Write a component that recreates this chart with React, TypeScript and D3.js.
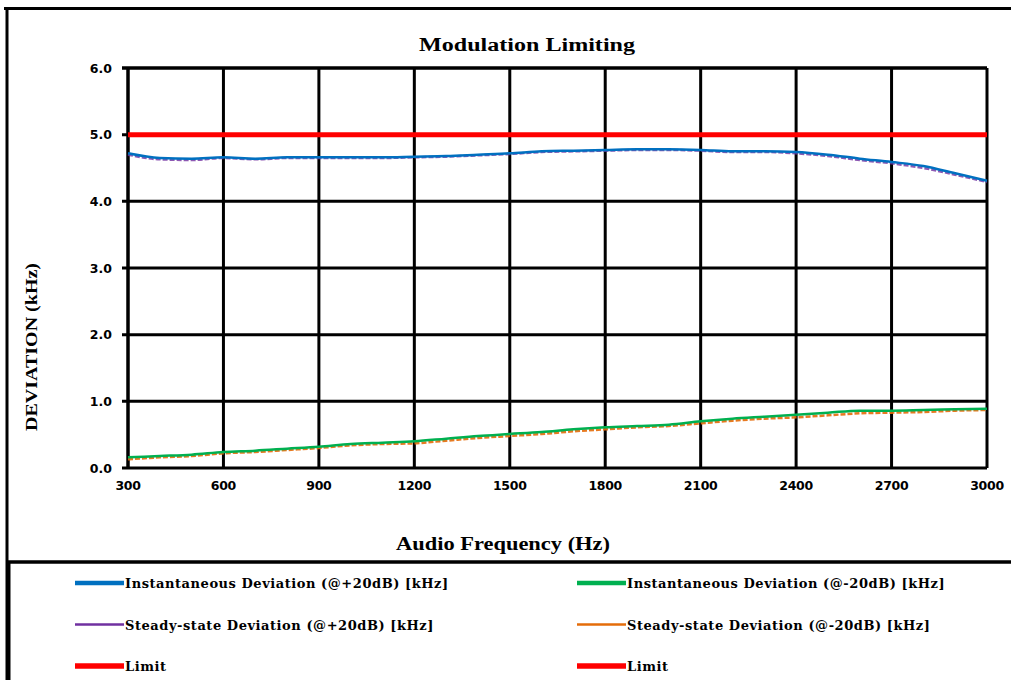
import React from "react";
import * as d3 from "d3";

const freqs = [300, 400, 500, 600, 700, 800, 900, 1000, 1100, 1200, 1300, 1400, 1500, 1600, 1700, 1800, 1900, 2000, 2100, 2200, 2300, 2400, 2500, 2600, 2700, 2800, 2900, 3000];
const instPlus = [4.72, 4.65, 4.64, 4.66, 4.64, 4.66, 4.66, 4.66, 4.66, 4.67, 4.68, 4.70, 4.72, 4.75, 4.76, 4.77, 4.78, 4.78, 4.77, 4.75, 4.75, 4.74, 4.70, 4.64, 4.59, 4.53, 4.42, 4.31];
const steadyPlus = [4.70, 4.63, 4.62, 4.65, 4.63, 4.65, 4.65, 4.65, 4.65, 4.66, 4.67, 4.69, 4.71, 4.74, 4.75, 4.76, 4.77, 4.77, 4.76, 4.74, 4.74, 4.72, 4.68, 4.62, 4.57, 4.50, 4.40, 4.29];
const instMinus = [0.16, 0.18, 0.20, 0.24, 0.26, 0.29, 0.32, 0.36, 0.38, 0.40, 0.44, 0.48, 0.51, 0.54, 0.58, 0.61, 0.63, 0.65, 0.70, 0.74, 0.77, 0.80, 0.83, 0.86, 0.86, 0.87, 0.88, 0.89];
const steadyMinus = [0.13, 0.16, 0.18, 0.22, 0.24, 0.27, 0.30, 0.34, 0.36, 0.37, 0.41, 0.45, 0.48, 0.51, 0.55, 0.58, 0.61, 0.63, 0.67, 0.71, 0.74, 0.76, 0.79, 0.82, 0.83, 0.84, 0.86, 0.87];
const limitValue = [5.0, 5.0];
const limitFreqs = [300, 3000];
const xTicks = [300, 600, 900, 1200, 1500, 1800, 2100, 2400, 2700, 3000];
const yTicks = [0, 1, 2, 3, 4, 5, 6];

const legendItems = [
  { label: "Instantaneous Deviation (@+20dB) [kHz]", color: "#0070C0", w: 4.5 },
  { label: "Instantaneous Deviation (@-20dB) [kHz]", color: "#00B050", w: 4.5 },
  { label: "Steady-state Deviation (@+20dB) [kHz]", color: "#7030A0", w: 2.5 },
  { label: "Steady-state Deviation (@-20dB) [kHz]", color: "#E46C0A", w: 2.5 },
  { label: "Limit", color: "#FF0000", w: 5.5 },
  { label: "Limit", color: "#FF0000", w: 5.5 },
];

export default function App() {
  const W = 1011, H = 680;
  const x = d3.scaleLinear().domain([300, 3000]).range([128, 987]);
  const y = d3.scaleLinear().domain([0, 6]).range([468, 68]);
  const line = d3.line<number>().x((_, i) => x(freqs[i])).y((d) => y(d)).curve(d3.curveMonotoneX);
  const limitLine = d3.line<number>().x((_, i) => x(limitFreqs[i])).y((d) => y(d));
  const serif = "'Liberation Serif', 'Times New Roman', serif";
  const slab = "'DejaVu Serif', serif";
  const sans = "'DejaVu Sans', Verdana, sans-serif";

  return (
    <svg width={W} height={H} style={{ position: "absolute", left: 0, top: 0, background: "#fff" }}>
      <rect x={0} y={0} width={W} height={H} fill="#fff" />
      {/* outer frame */}
      <line x1={4} x2={W} y1={8.5} y2={8.5} stroke="#000" strokeWidth={3} />
      <line x1={7} x2={7} y1={7} y2={H} stroke="#000" strokeWidth={3} />
      <line x1={6} x2={W} y1={562} y2={562} stroke="#000" strokeWidth={3.5} />
      <line x1={9} x2={9} y1={562} y2={H} stroke="#000" strokeWidth={3} />

      <text x={527} y={51} textAnchor="middle" fontFamily={serif} fontWeight="bold" fontSize={18} textLength={216} lengthAdjust="spacingAndGlyphs">Modulation Limiting</text>

      {/* grid */}
      {yTicks.map((t) => (
        <line key={"gy" + t} x1={122} x2={x(3000)} y1={y(t)} y2={y(t)} stroke="#000" strokeWidth={t === 6 ? 3.5 : 3} />
      ))}
      {xTicks.map((t) => (
        <line key={"gx" + t} x1={x(t)} x2={x(t)} y1={y(6)} y2={y(0)} stroke="#000" strokeWidth={t === 300 ? 3.5 : 3} />
      ))}

      {/* tick labels */}
      {yTicks.map((t) => (
        <text key={"ty" + t} x={112} y={y(t) + 4.5} textAnchor="end" fontFamily={sans} fontWeight="bold" fontSize={12.5}>{t.toFixed(1)}</text>
      ))}
      {xTicks.map((t) => (
        <text key={"tx" + t} x={x(t)} y={490} textAnchor="middle" fontFamily={sans} fontWeight="bold" fontSize={12.5} letterSpacing={-0.3}>{t}</text>
      ))}

      {/* series */}
      <path d={limitLine(limitValue) || ""} fill="none" stroke="#FF0000" strokeWidth={5} />
      <path d={line(steadyPlus) || ""} fill="none" stroke="#7030A0" strokeWidth={2.5} strokeDasharray="5,2" opacity={0.8} />
      <path d={line(instPlus) || ""} fill="none" stroke="#0070C0" strokeWidth={2.5} />
      <path d={line(steadyMinus) || ""} fill="none" stroke="#E46C0A" strokeWidth={2.5} strokeDasharray="5,2" opacity={0.9} />
      <path d={line(instMinus) || ""} fill="none" stroke="#00B050" strokeWidth={2.5} />

      {/* axis titles */}
      <text x={503} y={550} textAnchor="middle" fontFamily={serif} fontWeight="bold" fontSize={18} textLength={214} lengthAdjust="spacingAndGlyphs">Audio Frequency (Hz)</text>
      <text transform={`translate(37,347) rotate(-90)`} textAnchor="middle" fontFamily={serif} fontWeight="bold" fontSize={17} textLength={168} lengthAdjust="spacingAndGlyphs">DEVIATION (kHz)</text>

      {/* legend */}
      {legendItems.map((it, i) => {
        const col = i % 2;
        const row = Math.floor(i / 2);
        const lx = col === 0 ? 75 : 577;
        const ly = 583 + row * 41.5;
        return (
          <g key={"lg" + i}>
            <line x1={lx} x2={lx + 49} y1={ly} y2={ly} stroke={it.color} strokeWidth={it.w} />
            <text x={lx + 50} y={ly + 5} fontFamily={slab} fontWeight="bold" fontSize={13} letterSpacing={0.55}>{it.label}</text>
          </g>
        );
      })}
    </svg>
  );
}
